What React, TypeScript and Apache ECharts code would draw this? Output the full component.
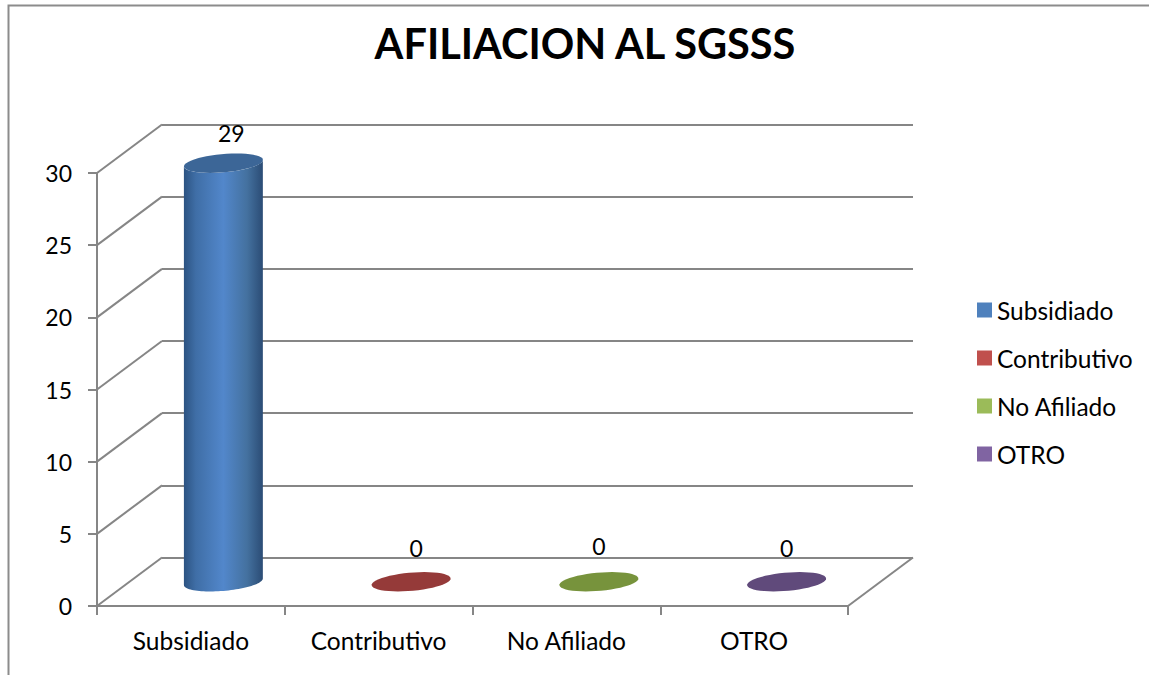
import React, { useEffect, useRef } from "react";
import * as echarts from "echarts";

const titleText = "AFILIACION AL SGSSS";
const categories = ["Subsidiado", "Contributivo", "No Afiliado", "OTRO"];
const seriesValues = [29, 0, 0, 0];
const yTicks = [0, 5, 10, 15, 20, 25, 30];
const legendColors = ["#4F81BD", "#C0504D", "#9BBB59", "#8064A2"];
const topColors = ["#3C6697", "#953A39", "#77933C", "#604A7B"];
const labelShiftX = [8, 5, 0, 0];
const labelShiftY = [-30, -34, -36, -34];

const FONT = "Lato, Carlito, Calibri, sans-serif";
const GRAY = "#868686";
const LEFT = 97;
const RIGHT = 848;
const TOP = 173;
const BOTTOM = 606;
const DX = 65;
const DY = -48.5;
const UX = 37.2;
const VX = 13.2;
const VY = -9.7;

function ell(cx: number, cy: number, t: number): number[] {
  return [cx + UX * Math.cos(t) + VX * Math.sin(t), cy + VY * Math.sin(t)];
}

function arc(cx: number, cy: number, from: number, to: number): number[][] {
  const pts: number[][] = [];
  for (let i = 0; i <= 48; i++) pts.push(ell(cx, cy, from + ((to - from) * i) / 48));
  return pts;
}

export default function App() {
  const ref = useRef<HTMLDivElement>(null);
  useEffect(() => {
    document.body.style.margin = "0";
    const chart = echarts.init(ref.current!, null, { renderer: "svg" });
    const t0 = Math.atan2(VX, UX);

    const barSeries = categories.map((name, idx) => ({
      type: "custom",
      name,
      coordinateSystem: "cartesian2d",
      xAxisIndex: 0,
      yAxisIndex: 0,
      clip: false,
      z: 5,
      itemStyle: { color: legendColors[idx] },
      data: [[idx, seriesValues[idx]]],
      renderItem: (_p: any, api: any) => {
        const i = api.value(0);
        const v = api.value(1);
        const base = api.coord([i, 0]);
        const top = api.coord([i, v]);
        const cx = base[0] + DX / 2;
        const by = base[1] + DY / 2;
        const ty = top[1] + DY / 2;
        const children: any[] = [];
        if (v > 0) {
          const body = [...arc(cx, by, t0, t0 - Math.PI), ...arc(cx, ty, t0 - Math.PI, t0)];
          children.push({
            type: "polygon",
            shape: { points: body },
            style: {
              fill: new echarts.graphic.LinearGradient(0, 0, 1, 0, [
                { offset: 0, color: "#2C5382" },
                { offset: 0.15, color: "#3F6EA6" },
                { offset: 0.5, color: "#5287CB" },
                { offset: 0.8, color: "#44719F" },
                { offset: 1, color: "#2B4C75" },
              ]),
            },
          });
        }
        children.push({
          type: "polygon",
          shape: { points: arc(cx, ty, 0, Math.PI * 2) },
          style: { fill: topColors[i] },
        });
        children.push({
          type: "text",
          style: {
            text: String(v),
            x: cx + labelShiftX[i],
            y: ty + labelShiftY[i],
            align: "center",
            verticalAlign: "middle",
            font: `23px ${FONT}`,
            fill: "#000",
          },
        });
        return { type: "group", children };
      },
    }));

    const wallSeries = {
      type: "custom",
      name: "walls",
      coordinateSystem: "cartesian2d",
      xAxisIndex: 0,
      yAxisIndex: 0,
      clip: false,
      silent: true,
      z: 1,
      data: yTicks.map((v) => [0, v]),
      renderItem: (params: any, api: any) => {
        const y = api.coord([0, api.value(1)])[1];
        const style = { stroke: GRAY, lineWidth: 2, fill: "none" };
        const children: any[] = [
          { type: "line", shape: { x1: LEFT, y1: y, x2: LEFT + DX, y2: y + DY }, style },
        ];
        if (params.dataIndex === 0) {
          children.push({
            type: "line",
            shape: { x1: RIGHT, y1: y, x2: RIGHT + DX, y2: y + DY },
            style,
          });
        }
        return { type: "group", children };
      },
    };

    chart.setOption({
      animation: false,
      backgroundColor: "#fff",
      textStyle: { fontFamily: FONT },
      title: {
        text: titleText,
        left: 580,
        top: 17,
        textAlign: "center",
        textStyle: { fontFamily: FONT, fontSize: 41.5, fontWeight: "bold", color: "#000" },
      },
      legend: {
        orient: "vertical",
        left: 977,
        top: 297.5,
        padding: 0,
        itemWidth: 15,
        itemHeight: 15,
        itemGap: 23,
        icon: "rect",
        selectedMode: false,
        textStyle: { fontFamily: FONT, fontSize: 24.5, lineHeight: 24, color: "#000" },
        data: categories.map((name, i) => ({ name, itemStyle: { color: legendColors[i] } })),
      },
      grid: [
        { left: LEFT, width: RIGHT - LEFT, top: TOP, height: BOTTOM - TOP, containLabel: false },
        { left: LEFT + DX, width: RIGHT - LEFT, top: TOP + DY, height: BOTTOM - TOP, containLabel: false },
      ],
      xAxis: [
        {
          type: "category",
          gridIndex: 0,
          data: categories,
          axisLine: { lineStyle: { color: GRAY, width: 2 } },
          axisTick: { show: true, length: 9, lineStyle: { color: GRAY, width: 2 } },
          axisLabel: { fontFamily: FONT, fontSize: 24.5, color: "#000", margin: 22 },
        },
        { type: "category", gridIndex: 1, data: categories, show: false },
      ],
      yAxis: [
        {
          type: "value",
          gridIndex: 0,
          min: 0,
          max: 30,
          interval: 5,
          axisLine: { show: true, lineStyle: { color: GRAY, width: 2 } },
          axisTick: { show: true, length: 9, lineStyle: { color: GRAY, width: 2 } },
          axisLabel: { fontFamily: FONT, fontSize: 23, color: "#000", margin: 25 },
          splitLine: { show: false },
        },
        {
          type: "value",
          gridIndex: 1,
          min: 0,
          max: 30,
          interval: 5,
          axisLine: { show: false },
          axisTick: { show: false },
          axisLabel: { show: false },
          splitLine: { show: true, lineStyle: { color: GRAY, width: 2 } },
        },
      ],
      graphic: [
        {
          type: "polyline",
          silent: true,
          shape: { points: [[8.5, 675], [8.5, 5.5], [1149, 5.5]] },
          style: { stroke: "#8C8C8C", lineWidth: 2, fill: "none" },
        },
      ],
      series: [wallSeries, ...barSeries],
    });
    return () => chart.dispose();
  }, []);
  return <div ref={ref} style={{ width: 1149, height: 675, position: "absolute", left: 0, top: 0 }} />;
}
